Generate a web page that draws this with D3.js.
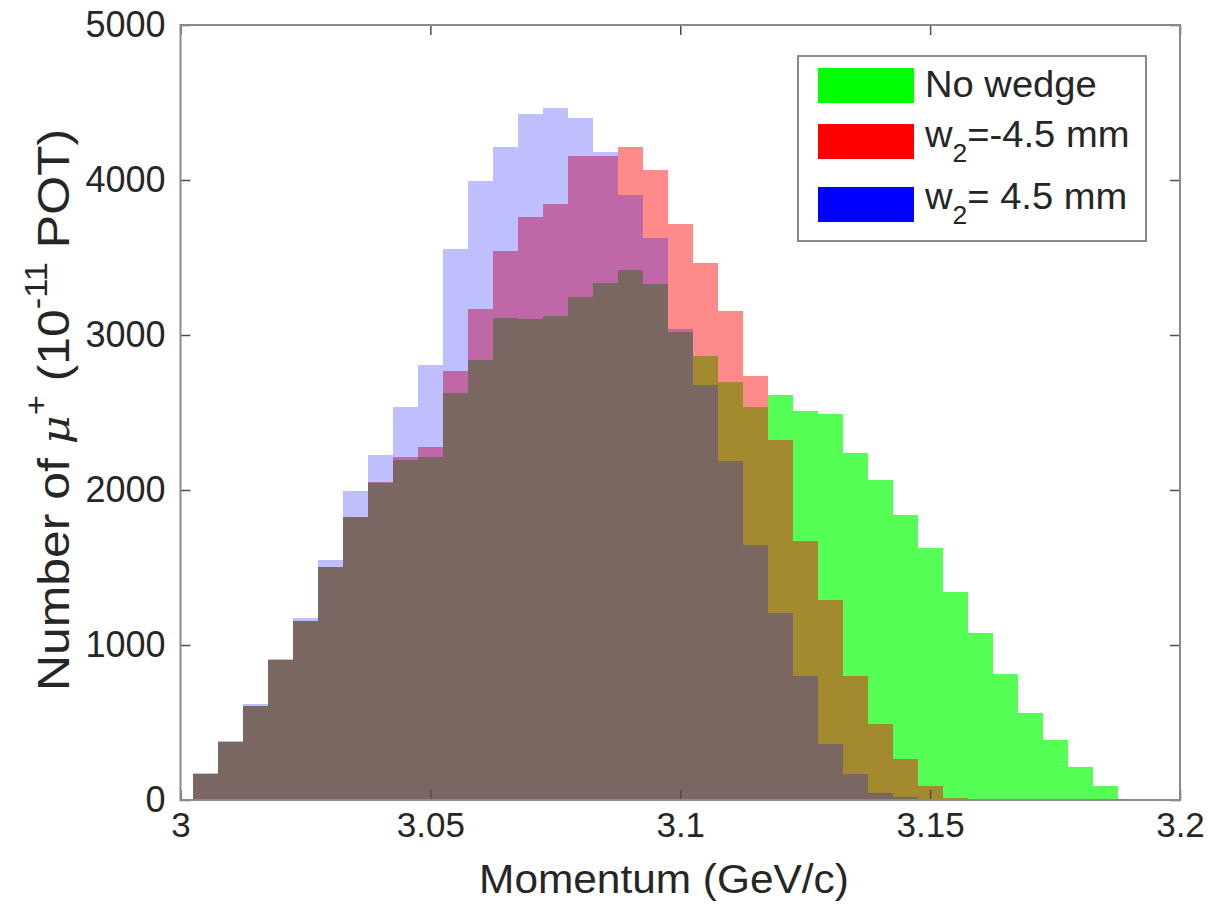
<!DOCTYPE html>
<html><head><meta charset="utf-8">
<script src="https://cdn.jsdelivr.net/npm/d3@7"></script>
<style>
body{margin:0;background:#fff}
svg text{font-family:"Liberation Sans",Arial,Helvetica,sans-serif;fill:#262626}
</style>
</head><body>
<svg id="chart" width="1209" height="915"></svg>
<script>
// bin centres (GeV/c), bin width 0.005
const momentum = [3.005,3.010,3.015,3.020,3.025,3.030,3.035,3.040,3.045,3.050,
  3.055,3.060,3.065,3.070,3.075,3.080,3.085,3.090,3.095,3.100,
  3.105,3.110,3.115,3.120,3.125,3.130,3.135,3.140,3.145,3.150,
  3.155,3.160,3.165,3.170,3.175,3.180,3.185];
const binWidth = 0.005;
const noWedge = [168,376,608,903,1155,1501,1828,2045,2194,2215,2628,2839,3108,3101,3123,3247,3333,3419,3329,3021,
  2865,2699,2538,2613,2512,2488,2241,2065,1841,1628,1342,1075,813,559,387,215,90];
const wMinus = [168,376,608,903,1155,1501,1828,2052,2211,2275,2770,3166,3544,3763,3843,4157,4157,4211,4065,3716,
  3466,3157,2735,2323,1673,1290,800,490,265,92,11,0,0,0,0,0,0];
const wPlus = [172,382,618,912,1172,1550,1994,2226,2538,2806,3553,3994,4211,4424,4462,4402,4183,3903,3628,3040,
  2677,2189,1645,1204,800,359,168,47,17,0,0,0,0,0,0,0,0];
const xTicks = [3, 3.05, 3.1, 3.15, 3.2];
const yTicks = [0, 1000, 2000, 3000, 4000, 5000];
const seriesColors = ["#00ff00", "#ff0000", "#0000ff"];
const seriesAlpha = [0.667, 0.46, 0.25];

const svg = d3.select("#chart");
const L = 180.5, R = 1180, T = 25, B = 800;
const x = d3.scaleLinear().domain([3, 3.2]).range([L, R]);
const y = d3.scaleLinear().domain([0, 5000]).range([B, T]);

const series = [noWedge, wMinus, wPlus];
series.forEach((vals, si) => {
  svg.append("g")
    .attr("fill", seriesColors[si])
    .attr("fill-opacity", seriesAlpha[si])
    .attr("shape-rendering", "crispEdges")
    .selectAll("rect")
    .data(vals.map((v, i) => ({c: momentum[i], v})).filter(d => d.v > 0))
    .join("rect")
    .attr("x", d => x(d.c - binWidth / 2))
    .attr("width", d => x(d.c + binWidth / 2) - x(d.c - binWidth / 2))
    .attr("y", d => y(d.v))
    .attr("height", d => y(0) - y(d.v));
});

// axes (inward ticks, box)
const tickCol = "#4d4d4d";
function styleAxis(g, size) {
  g.select(".domain").remove();
  g.selectAll(".tick line").attr("stroke", tickCol).attr("stroke-width", 1.5);
  g.selectAll(".tick text").style("font-size", size + "px").attr("fill", "#262626");
}
svg.append("g").attr("transform", `translate(0,${B})`)
  .call(d3.axisBottom(x).tickValues(xTicks).tickFormat(d3.format("")).tickSizeInner(-10).tickSizeOuter(0).tickPadding(12))
  .call(styleAxis, 35);
svg.append("g").attr("transform", `translate(0,${T})`)
  .call(d3.axisTop(x).tickValues(xTicks).tickFormat("").tickSizeInner(-10).tickSizeOuter(0))
  .call(styleAxis, 35);
svg.append("g").attr("transform", `translate(${L},0)`)
  .call(d3.axisLeft(y).tickValues(yTicks).tickFormat(d3.format("d")).tickSizeInner(-10).tickSizeOuter(0).tickPadding(15))
  .call(styleAxis, 36);
svg.append("g").attr("transform", `translate(${R},0)`)
  .call(d3.axisRight(y).tickValues(yTicks).tickFormat("").tickSizeInner(-10).tickSizeOuter(0))
  .call(styleAxis, 35);
svg.selectAll("g.tick text").attr("font-family", null);

svg.append("rect").attr("x", L).attr("y", T).attr("width", R - L).attr("height", B - T)
  .attr("fill", "none").attr("stroke", "#8a8a8a").attr("stroke-width", 2);

// axis labels
svg.append("text").attr("transform", "translate(664,893) scale(1.06,1)").attr("text-anchor", "middle")
  .style("font-size", "40px").text("Momentum (GeV/c)");

const yl = svg.append("text").attr("transform", "translate(69,410) rotate(-90) scale(1.11,1)")
  .attr("text-anchor", "middle").style("font-size", "45px");
yl.append("tspan").text("Number of ");
yl.append("tspan").style("font-style", "italic").attr("font-family", "DejaVu Serif, serif").style("font-size", "40px").text("μ");
yl.append("tspan").style("font-size", "31px").attr("dy", -22).text("+");
yl.append("tspan").attr("dy", 22).text(" (10");
yl.append("tspan").style("font-size", "31px").attr("dy", -22).text("-11");
yl.append("tspan").attr("dy", 22).text(" POT)");

// legend
const lg = svg.append("g");
lg.append("rect").attr("x", 798).attr("y", 56).attr("width", 348).attr("height", 185)
  .attr("fill", "#fff").attr("stroke", "#8a8a8a").attr("stroke-width", 2);
const swY = [68, 124, 187];
const txtY = [97, 147, 209];
seriesColors.forEach((c, i) => {
  lg.append("rect").attr("x", 818).attr("y", swY[i]).attr("width", 96).attr("height", 35).attr("fill", c);
});
lg.append("text").attr("transform", `translate(925,${txtY[0]}) scale(1.06,1)`).style("font-size", "36px").text("No wedge");
[["=-4.5 mm"], ["= 4.5 mm"]].forEach((s, k) => {
  const t = lg.append("text").attr("transform", `translate(925,${txtY[k + 1]}) scale(1.06,1)`).style("font-size", "36px")
    .attr("xml:space", "preserve");
  t.append("tspan").text("w");
  t.append("tspan").style("font-size", "25px").attr("dy", 15).text("2");
  t.append("tspan").attr("dy", -15).text(s[0]);
});
</script>
</body></html>
